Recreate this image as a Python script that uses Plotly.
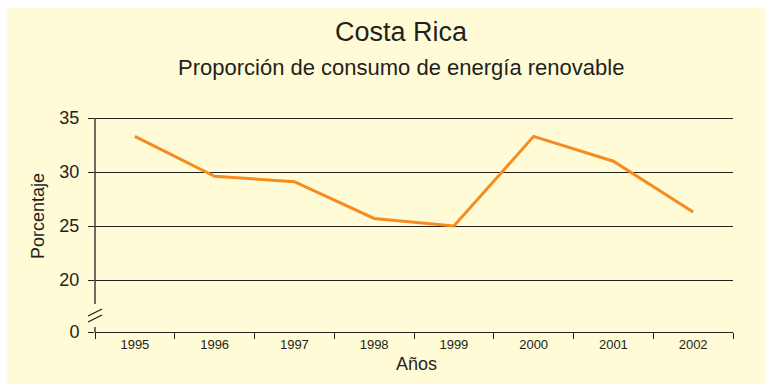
import plotly.graph_objects as go

# Renewable energy share of consumption, Costa Rica
years = ["1995", "1996", "1997", "1998", "1999", "2000", "2001", "2002"]
share = [33.3, 29.6, 29.1, 25.7, 25.0, 33.3, 31.0, 26.3]

y_ticks = [20, 25, 30, 35]
zero_label = "0"

W, H = 765, 384
ML, MR, MT, MB = 95, 32, 116, 52
PW, PH = W - ML - MR, H - MT - MB

PX_PER_UNIT = 10.8
Y_TOP = 35.0
Y_RANGE_TOP = Y_TOP + 2 / PX_PER_UNIT
Y_BOT = 20 - 52 / PX_PER_UNIT  # position of the broken-axis "0"

FONT = "Liberation Sans, Arial, Helvetica, sans-serif"
INK = "#231F20"
CREAM = "#FFFBD6"
ORANGE = "#F68B1F"


def px_x(p):
    return (p - ML) / PW


def px_y(p):
    return (MT + PH - p) / PH


def val_at_px(p):
    return 20 - (p - 280) / PX_PER_UNIT


fig = go.Figure()
fig.add_trace(go.Scatter(
    x=years, y=share, mode="lines",
    line=dict(color=ORANGE, width=3),
    hoverinfo="x+y", showlegend=False,
))

shapes = [
    # cream panel
    dict(type="rect", xref="paper", yref="paper",
         x0=px_x(7), x1=px_x(W + 2), y0=px_y(H + 2), y1=px_y(8),
         fillcolor=CREAM, line=dict(width=0), layer="below"),
    # y axis line, interrupted by the break
    dict(type="line", xref="paper", yref="y", x0=0, x1=0,
         y0=val_at_px(304), y1=Y_TOP, line=dict(color=INK, width=1.3)),
    dict(type="line", xref="paper", yref="y", x0=0, x1=0,
         y0=Y_BOT, y1=val_at_px(327), line=dict(color=INK, width=1.3)),
    # break marks
    dict(type="line", xref="paper", yref="y", x0=px_x(88), x1=px_x(102),
         y0=val_at_px(316), y1=val_at_px(309), line=dict(color=INK, width=1.3)),
    dict(type="line", xref="paper", yref="y", x0=px_x(88), x1=px_x(102),
         y0=val_at_px(322), y1=val_at_px(315), line=dict(color=INK, width=1.3)),
]

annotations = [
    dict(text="Costa Rica", xref="paper", yref="paper", x=px_x(401), y=px_y(32),
         xanchor="center", yanchor="middle", showarrow=False,
         font=dict(family=FONT, size=27, color=INK)),
    dict(text="Proporción de consumo de energía renovable", xref="paper", yref="paper",
         x=px_x(401), y=px_y(67), xanchor="center", yanchor="middle", showarrow=False,
         font=dict(family=FONT, size=22, color=INK)),
    dict(text="Años", xref="paper", yref="paper", x=px_x(416), y=px_y(364),
         xanchor="center", yanchor="middle", showarrow=False,
         font=dict(family=FONT, size=18, color=INK)),
    dict(text="Porcentaje", xref="paper", yref="paper", x=px_x(38), y=px_y(216),
         xanchor="center", yanchor="middle", showarrow=False, textangle=-90,
         font=dict(family=FONT, size=18, color=INK)),
]

fig.update_layout(
    width=W, height=H,
    margin=dict(l=ML, r=MR, t=MT, b=MB, pad=0),
    paper_bgcolor="white",
    plot_bgcolor="rgba(0,0,0,0)",
    shapes=shapes,
    annotations=annotations,
    font=dict(family=FONT, color=INK),
    xaxis=dict(
        type="category", range=[-0.5, len(years) - 0.5],
        tickson="boundaries", ticks="outside", ticklen=6, tickwidth=1.3,
        tickcolor=INK, showline=True, linecolor=INK, linewidth=1.3,
        showgrid=False, zeroline=False,
        tickfont=dict(family=FONT, size=13, color=INK),
        fixedrange=True,
    ),
    yaxis=dict(
        range=[Y_BOT, Y_RANGE_TOP],
        tickmode="array",
        tickvals=[Y_BOT] + y_ticks,
        ticktext=[zero_label] + [str(v) for v in y_ticks],
        ticks="outside", ticklen=6, tickwidth=1.3, tickcolor=INK,
        ticklabelstandoff=5,
        showline=False, showgrid=True, gridcolor=INK, gridwidth=1.3,
        zeroline=False,
        tickfont=dict(family=FONT, size=18, color=INK),
        fixedrange=True,
    ),
)

fig.write_html("out.html", config={"displayModeBar": False})
